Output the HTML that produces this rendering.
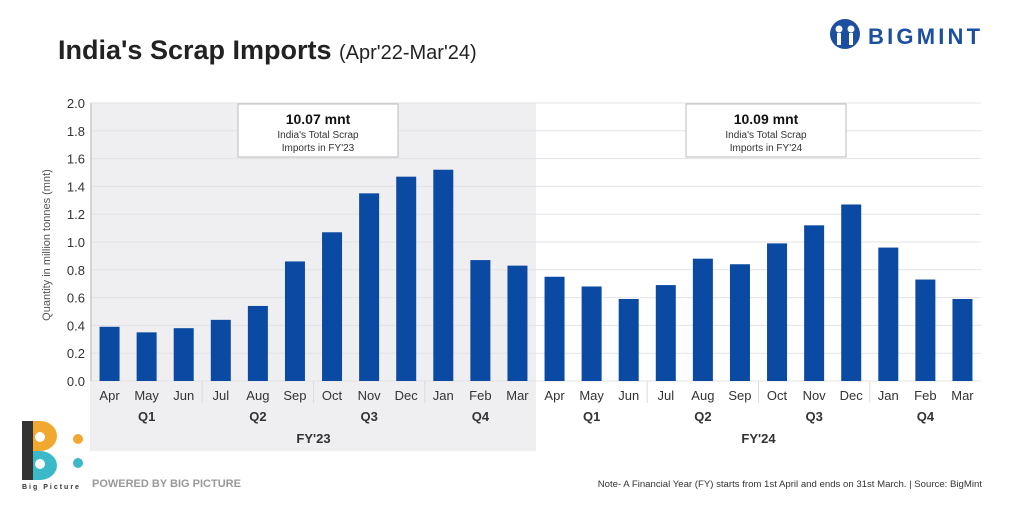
<!DOCTYPE html>
<html><head><meta charset="utf-8"><style>
body{margin:0;width:1024px;height:512px;background:#fff;overflow:hidden;font-family:"Liberation Sans",sans-serif}
</style></head><body>
<svg width="1024" height="512" xmlns="http://www.w3.org/2000/svg" id="svg" font-family="Liberation Sans, sans-serif">
<rect x="90" y="103" width="446" height="348" fill="#efeff1"/>
<text x="58" y="59" font-size="27" font-weight="bold" fill="#222">India's Scrap Imports <tspan font-size="20" font-weight="normal">(Apr'22-Mar'24)</tspan></text>
<g>
<circle cx="845" cy="34" r="15" fill="#1c4fa0"/>
<circle cx="839" cy="29" r="3.5" fill="#fff"/><circle cx="851" cy="29" r="3.5" fill="#fff"/>
<rect x="837" y="33" width="4" height="12" fill="#fff"/><rect x="849" y="33" width="4" height="12" fill="#fff"/>
<text x="868" y="44" font-size="22" font-weight="bold" fill="#1c4fa0" letter-spacing="3.2">BIGMINT</text>
</g>
<text transform="translate(50,245) rotate(-90)" text-anchor="middle" font-size="11" fill="#555">Quantity in million tonnes (mnt)</text>
<g id="grid"></g><g id="bars"></g><g id="axis"></g>
<g>
<rect x="238" y="104" width="160" height="53" fill="#fff" stroke="#bbb"/>
<text x="318" y="124" text-anchor="middle" font-size="14" font-weight="bold" fill="#111">10.07 mnt</text>
<text x="318" y="138" text-anchor="middle" font-size="10" fill="#333">India's Total Scrap</text>
<text x="318" y="151" text-anchor="middle" font-size="10" fill="#333">Imports in FY'23</text>
</g>
<g>
<rect x="686" y="104" width="160" height="53" fill="#fff" stroke="#bbb"/>
<text x="766" y="124" text-anchor="middle" font-size="14" font-weight="bold" fill="#111">10.09 mnt</text>
<text x="766" y="138" text-anchor="middle" font-size="10" fill="#333">India's Total Scrap</text>
<text x="766" y="151" text-anchor="middle" font-size="10" fill="#333">Imports in FY'24</text>
</g>
<g>
<path d="M33 421 h7 a17 15 0 0 1 0 30 h-7 Z" fill="#f0a830"/>
<path d="M33 451 h7 a17 14.5 0 0 1 0 29 h-7 Z" fill="#3bb9c9"/>
<rect x="22" y="421" width="11" height="59" fill="#333"/>
<circle cx="40" cy="437" r="5" fill="#fff"/><circle cx="40" cy="464" r="5" fill="#fff"/>
<circle cx="78" cy="439" r="5" fill="#f0a830"/><circle cx="78" cy="463" r="5" fill="#3bb9c9"/>
<text x="22" y="489" font-size="7" font-weight="bold" fill="#333" letter-spacing="2">Big Picture</text>
</g>
<text x="92" y="487" font-size="11" font-weight="bold" fill="#999">POWERED BY BIG PICTURE</text>
<text x="982" y="487" text-anchor="end" font-size="9.6" fill="#333">Note- A Financial Year (FY) starts from 1st April and ends on 31st March. | Source: BigMint</text>
</svg>
<script>
const months=["Apr","May","Jun","Jul","Aug","Sep","Oct","Nov","Dec","Jan","Feb","Mar","Apr","May","Jun","Jul","Aug","Sep","Oct","Nov","Dec","Jan","Feb","Mar"];
const values=[0.39,0.35,0.38,0.44,0.54,0.86,1.07,1.35,1.47,1.52,0.87,0.83,0.75,0.68,0.59,0.69,0.88,0.84,0.99,1.12,1.27,0.96,0.73,0.59];
const yTicks=[0,0.2,0.4,0.6,0.8,1.0,1.2,1.4,1.6,1.8,2.0];
const quarters=["Q1","Q2","Q3","Q4","Q1","Q2","Q3","Q4"];
const years=["FY'23","FY'24"];
const NS="http://www.w3.org/2000/svg";
const x0=91,x1=981,y0=381,y1=103,yMax=2.0;
const step=(x1-x0)/months.length;
const X=i=>x0+step*(i+0.5);
const Y=v=>y0-(v/yMax)*(y0-y1);
function mk(t,a,p){const e=document.createElementNS(NS,t);for(const k in a)e.setAttribute(k,a[k]);p.appendChild(e);return e;}
const grid=document.getElementById('grid'),bars=document.getElementById('bars'),axis=document.getElementById('axis');
yTicks.forEach(v=>{
 const l=mk('line',{x1:x0,x2:x1,y1:Y(v),y2:Y(v),stroke:'#e3e3e6','stroke-width':1},grid);
 
 
 const t=mk('text',{x:x0-6,y:Y(v)+5,'text-anchor':'end','font-size':13,fill:'#333'},axis);
 t.textContent=v.toFixed(1);
 
 
});
mk('line',{x1:x0,x2:x0,y1:y1,y2:y0,stroke:'#bbb'},axis);
values.forEach((v,i)=>{
 const r=mk('rect',{x:X(i)-10,y:Y(v),width:20,height:y0-Y(v),fill:'#0a4aa3'},bars);
 
 
 const t=mk('text',{x:X(i),y:400,'text-anchor':'middle','font-size':13,fill:'#333'},axis);
 t.textContent=months[i];
 
 
});
quarters.forEach((q,k)=>{
 const t=mk('text',{x:X(k*3+1),y:421,'text-anchor':'middle','font-size':13,'font-weight':'bold',fill:'#333'},axis);
 t.textContent=q;
 
 
 if(k>0&&k!==4){mk('line',{x1:x0+step*k*3,x2:x0+step*k*3,y1:y0,y2:403,stroke:'#ddd'},axis);}
});
years.forEach((y,k)=>{
 const t=mk('text',{x:x0+step*(k*12+6),y:443,'text-anchor':'middle','font-size':13,'font-weight':'bold',fill:'#333'},axis);
 t.textContent=y;
 
 
});
</script>
</body></html>
